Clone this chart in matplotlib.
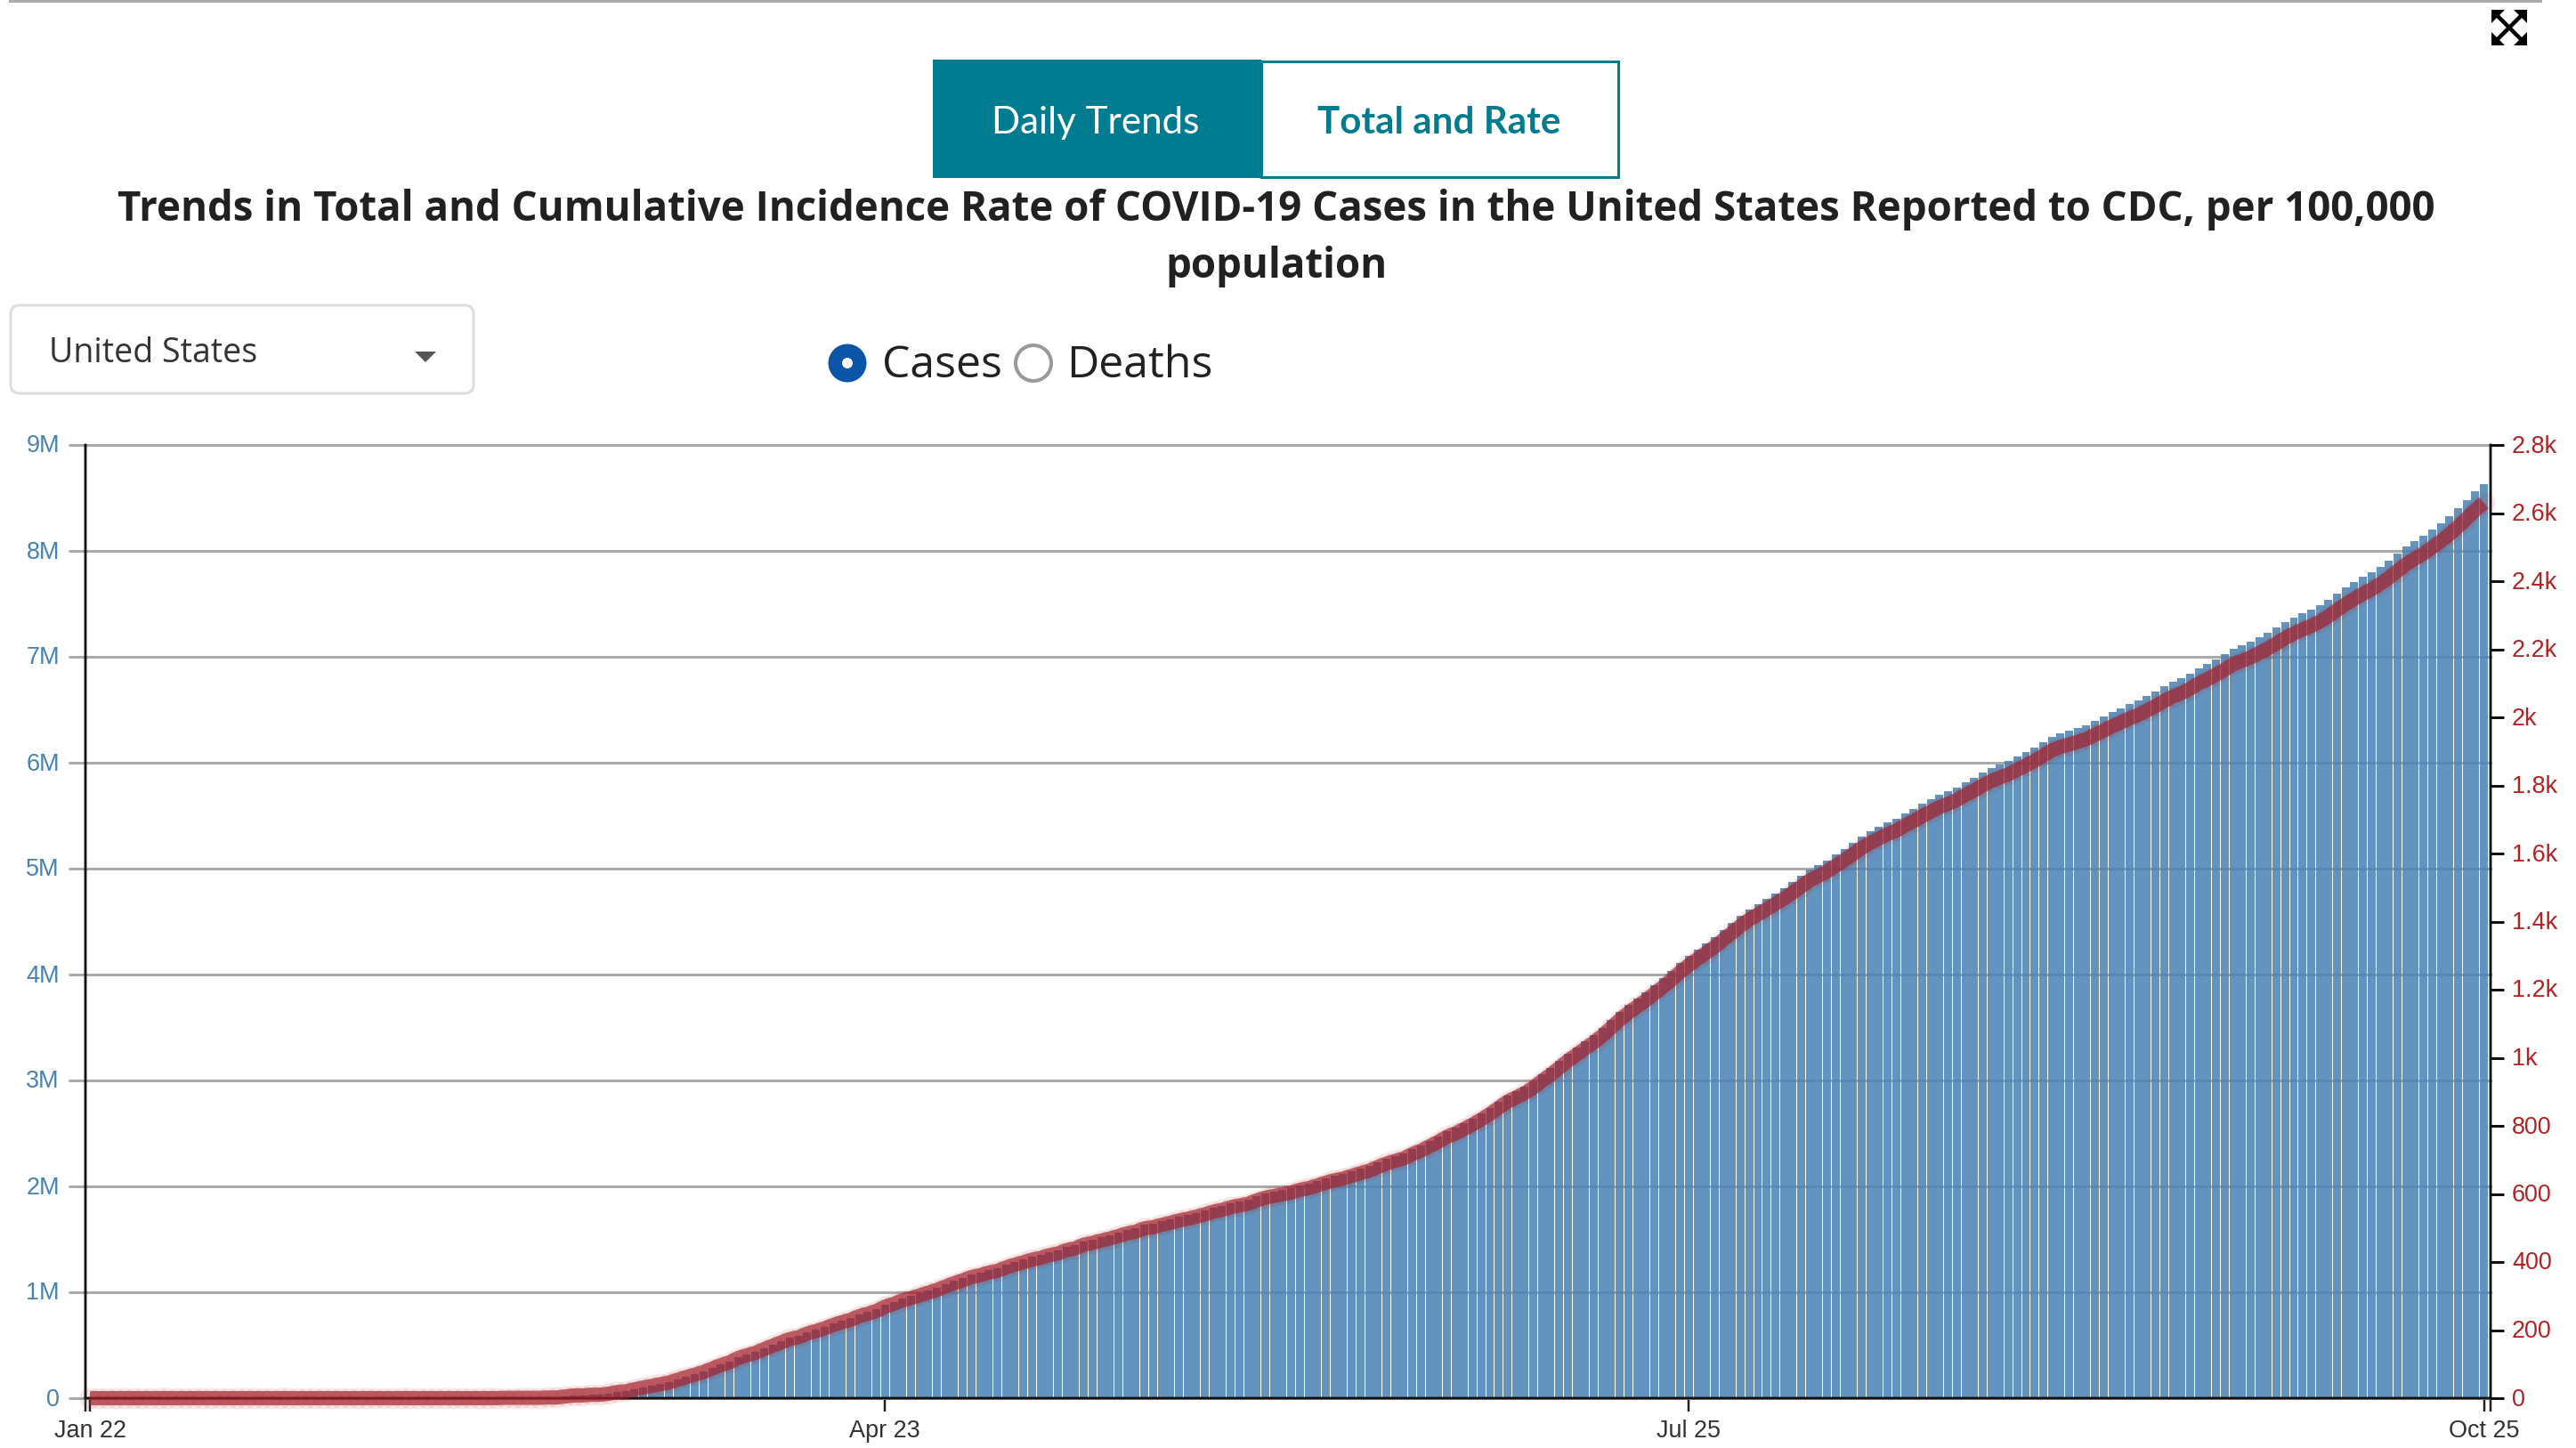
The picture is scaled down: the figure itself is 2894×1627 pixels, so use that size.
#!/usr/bin/env python3
# -*- coding: utf-8 -*-

"""
Total COVID-19 cases (bars) and cumulative incidence rate (line) in the United States.
"""

import pandas as pd
import matplotlib
matplotlib.use("Agg")
import matplotlib.pyplot as plt
from matplotlib.patches import Circle, FancyBboxPatch, Polygon, Rectangle
from matplotlib.transforms import ScaledTranslation

# Daily data, Jan 22 to Oct 25
start_date = "2020-01-22"

# Total cases in millions
total_cases = [
    0, 0, 0, 0, 0, 0, 0, 0, 0, 0, 0, 0, 0, 0, 0, 0, 0, 0, 0, 0,
    0, 0, 0, 0, 0, 0, 0, 0, 0, 0, 0, 0, 0, 0, 0, 0, 0, 0, 0, 0,
    0, 0, 0, 0, 0, .001, .001, .001, .002, .002, .003, .003, .004, .006,
    .008, .017, .025, .025, .034, .034, .042, .059, .067, .084, .101, .118, .134, .151, .176, .202,
    .227, .252, .286, .319, .345, .387, .412, .437, .471, .504, .538, .571, .588, .622, .647, .672,
    .706, .731, .756, .790, .815, .840, .882, .908, .941, .966, .992, 1.017, 1.042, 1.076, 1.109, 1.134,
    1.168, 1.185, 1.210, 1.227, 1.261, 1.286, 1.311, 1.336, 1.353, 1.378, 1.395, 1.429, 1.445, 1.479,
    1.496, 1.521, 1.538, 1.563, 1.588, 1.605, 1.639, 1.647, 1.672, 1.689, 1.714, 1.731, 1.748, 1.773,
    1.798, 1.815, 1.840, 1.857, 1.874, 1.908, 1.933, 1.950, 1.966, 1.983, 2.008, 2.025, 2.050, 2.076,
    2.101, 2.118, 2.143, 2.168, 2.193, 2.227, 2.261, 2.286, 2.311, 2.353, 2.387, 2.429, 2.471, 2.521,
    2.555, 2.597, 2.639, 2.689, 2.739, 2.798, 2.857, 2.899, 2.941, 2.992, 3.059, 3.118, 3.185, 3.252,
    3.311, 3.370, 3.429, 3.496, 3.571, 3.647, 3.714, 3.773, 3.832, 3.899, 3.966, 4.034, 4.109, 4.176,
    4.235, 4.294, 4.353, 4.420, 4.487, 4.555, 4.613, 4.664, 4.714, 4.765, 4.815, 4.874, 4.933, 4.992,
    5.034, 5.076, 5.134, 5.185, 5.244, 5.303, 5.353, 5.395, 5.437, 5.471, 5.521, 5.563, 5.613, 5.655,
    5.697, 5.731, 5.765, 5.815, 5.857, 5.908, 5.950, 5.983, 6.017, 6.059, 6.101, 6.143, 6.193, 6.244,
    6.277, 6.303, 6.328, 6.353, 6.395, 6.437, 6.479, 6.513, 6.555, 6.588, 6.630, 6.672, 6.723, 6.765,
    6.798, 6.840, 6.891, 6.933, 6.975, 7.025, 7.076, 7.109, 7.143, 7.185, 7.227, 7.277, 7.328, 7.370,
    7.412, 7.445, 7.487, 7.538, 7.597, 7.655, 7.706, 7.756, 7.798, 7.849, 7.908, 7.975, 8.042, 8.092,
    8.143, 8.202, 8.261, 8.328, 8.403, 8.479, 8.563, 8.630,
]

# Cumulative incidence per 100,000 population
incidence_rate = [
    0, 0, 0, 0, 0, 0, 0, 0, 0, 0, 0, 0, 0, 0, 0, 0, 0, 0, 0, 0,
    0, 0, 0, 0, 0, 0, 0, 0, 0, 0, 0, 0, 0, 0, 0, 0, 0, 0, 0, 0,
    0, 0, 0, 0, 0, 0, 0, 0, 1, 1, 1, 1, 1, 2,
    2, 5, 8, 8, 10, 10, 13, 18, 20, 26, 31, 36, 41, 46, 54, 62,
    69, 77, 87, 97, 105, 118, 126, 133, 144, 154, 164, 174, 179, 190, 197, 205,
    215, 223, 230, 241, 248, 256, 269, 277, 287, 294, 302, 310, 318, 328, 338, 346,
    356, 361, 369, 374, 384, 392, 399, 407, 412, 420, 425, 435, 440, 451,
    456, 463, 469, 476, 484, 489, 499, 502, 509, 515, 522, 527, 533, 540,
    548, 553, 561, 566, 571, 581, 589, 594, 599, 604, 612, 617, 625, 633,
    640, 645, 653, 661, 668, 679, 689, 697, 704, 717, 727, 740, 753, 768,
    778, 791, 804, 819, 835, 853, 871, 883, 896, 912, 932, 950, 970, 991,
    1009, 1027, 1045, 1065, 1088, 1111, 1132, 1150, 1168, 1188, 1208, 1229, 1252, 1272,
    1290, 1308, 1326, 1347, 1367, 1388, 1406, 1421, 1436, 1452, 1467, 1485, 1503, 1521,
    1534, 1547, 1564, 1580, 1598, 1616, 1631, 1644, 1657, 1667, 1682, 1695, 1710, 1723,
    1736, 1746, 1757, 1772, 1785, 1800, 1813, 1823, 1833, 1846, 1859, 1872, 1887, 1903,
    1913, 1920, 1928, 1936, 1949, 1961, 1974, 1985, 1997, 2007, 2020, 2033, 2048, 2061,
    2071, 2084, 2100, 2112, 2125, 2140, 2156, 2166, 2176, 2189, 2202, 2217, 2233, 2246,
    2258, 2268, 2281, 2297, 2315, 2332, 2348, 2363, 2376, 2392, 2410, 2430, 2450, 2466,
    2481, 2499, 2517, 2538, 2560, 2584, 2609, 2630,
]

# Axis ticks
left_ticks = [0, 1, 2, 3, 4, 5, 6, 7, 8, 9]
left_labels = ["0", "1M", "2M", "3M", "4M", "5M", "6M", "7M", "8M", "9M"]
right_ticks = [0, 200, 400, 600, 800, 1000, 1200, 1400, 1600, 1800, 2000, 2200, 2400, 2600, 2800]
right_labels = ["0", "200", "400", "600", "800", "1k", "1.2k", "1.4k", "1.6k", "1.8k", "2k",
                "2.2k", "2.4k", "2.6k", "2.8k"]
date_ticks = ["2020-01-22", "2020-04-23", "2020-07-25", "2020-10-25"]
date_labels = ["Jan 22", "Apr 23", "Jul 25", "Oct 25"]

TEAL = "#007c91"
BLUE = "steelblue"
RED = "firebrick"
WIDTH, HEIGHT = 2894, 1627
PX = 72 / 100  # one image pixel in points


def add_page(fig):
    """Draws the web page parts around the chart, in image pixels."""
    page = fig.add_axes([0, 0, 1, 1], zorder=0)
    page.set_xlim(0, WIDTH)
    page.set_ylim(HEIGHT, 0)
    page.axis("off")

    # Rule at the top of the page
    page.add_patch(Rectangle((10, 0), 2846, 3, color="#aaaaaa", lw=0))

    # Expand icon
    cx, cy, r = 2819, 31, 20
    page.plot([cx - r + 6, cx + r - 6], [cy - r + 6, cy + r - 6], color="black", lw=4.5 * PX)
    page.plot([cx - r + 6, cx + r - 6], [cy + r - 6, cy - r + 6], color="black", lw=4.5 * PX)
    for sx in (-1, 1):
        for sy in (-1, 1):
            page.add_patch(Polygon([(cx + sx * r, cy + sy * r), (cx + sx * (r - 15), cy + sy * r),
                                    (cx + sx * r, cy + sy * (r - 15))], color="black", lw=0))

    # Tab buttons
    page.add_patch(Rectangle((1417, 68.5), 401, 130, fc="white", ec=TEAL, lw=3 * PX))
    page.add_patch(Rectangle((1048, 67), 369, 133, color=TEAL, lw=0))
    page.text(1231, 150, "Daily Trends", family="Lato", fontsize=30.3, color="white",
              ha="center", va="baseline")
    page.text(1617, 150, "Total and Rate", family="Lato", weight="bold", fontsize=30.3, color=TEAL,
              ha="center", va="baseline")

    # Title
    page.text(1434, 248, "Trends in Total and Cumulative Incidence Rate of COVID-19 Cases "
              "in the United States Reported to CDC, per 100,000",
              family="Open Sans", weight="bold", fontsize=32.85, color="#212121", ha="center", va="baseline")
    page.text(1434, 312, "population", family="Open Sans", weight="bold", fontsize=32.85, color="#212121",
              ha="center", va="baseline")

    # Drop down
    page.add_patch(FancyBboxPatch((22, 353), 500, 79, boxstyle="round,pad=10,rounding_size=10",
                                  fc="white", ec="#dddddd", lw=3 * PX))
    page.text(55, 407, "United States", family="Open Sans", fontsize=27, color="#333333", va="baseline")
    page.add_patch(Polygon([(466, 395), (490, 395), (478, 407)], color="#555555", lw=0))

    # Radio buttons
    page.add_patch(Circle((952, 408), 21.5, color="#0b55a8", lw=0))
    page.add_patch(Circle((952, 408), 6, color="white", lw=0))
    page.add_patch(Circle((1161, 408), 20, fc="white", ec="#999999", lw=4 * PX))
    page.text(991, 424, "Cases", family="Open Sans", fontsize=36, color="#212121", va="baseline")
    page.text(1198, 424, "Deaths", family="Open Sans", fontsize=36, color="#212121", va="baseline")


if __name__ == "__main__":
    plt.rcParams["font.family"] = ["Liberation Sans", "DejaVu Sans"]

    dates = pd.date_range(start_date, periods=len(total_cases), freq="D")
    day = pd.Timedelta(days=1)

    fig = plt.figure(figsize=(WIDTH / 100, HEIGHT / 100), dpi=100, facecolor="white")
    add_page(fig)

    # Chart area in figure fractions
    ax = fig.add_axes([96 / WIDTH, 1 - 1571 / HEIGHT, (2798 - 96) / WIDTH, (1571 - 500) / HEIGHT], zorder=1)
    ax.patch.set_alpha(0)

    # Bars with the grid behind them, it shines through a little
    ax.bar(dates, total_cases, width=0.925, color=BLUE, alpha=0.85, lw=0, zorder=2)
    ax.set_xlim(dates[0] - 0.515 * day, dates[0] + 277.76 * day)
    ax.set_ylim(0, 9)

    ax.set_yticks(left_ticks, left_labels)
    ax.grid(axis="y", color="#aaaaaa", lw=3 * PX, zorder=1)
    ax.set_axisbelow(True)
    for line in ax.get_ygridlines():
        line.set_clip_on(False)
    ax.tick_params(axis="y", left=True, length=19 * PX, width=3 * PX, color="#aaaaaa", pad=10 * PX,
                   labelsize=27 * PX, labelcolor=BLUE)
    # Only the outer ticks of the left axis are black
    for i in (0, -1):
        ax.yaxis.get_major_ticks()[i].tick1line.set_color("black")

    # Outer ticks of the bottom axis sit at both ends of it
    x_left, x_right = ax.get_xlim()
    date_nums = [matplotlib.dates.date2num(pd.Timestamp(d)) for d in date_ticks]
    ax.set_xticks([x_left] + date_nums + [x_right], [""] + date_labels + [""])
    ax.tick_params(axis="x", length=15 * PX, width=2.5 * PX, color="#222222", pad=9 * PX,
                   labelsize=27 * PX, labelcolor="#333333")

    # Rate axis and line
    ax2 = ax.twinx()
    ax2.set_zorder(2)
    ax2.patch.set_alpha(0)
    ax2.set_ylim(0, 2800)
    ax2.set_yticks(right_ticks, right_labels)
    ax2.tick_params(axis="y", length=15 * PX, width=3 * PX, color="#111111", pad=9 * PX,
                    labelsize=27 * PX, labelcolor=RED)
    ax2.plot(dates, incidence_rate, color="#a3202e", lw=16 * PX, alpha=0.68, solid_capstyle="butt",
             solid_joinstyle="round", clip_on=False, zorder=3)
    ax2.plot(dates, incidence_rate, ls="none", marker="o", ms=24 * PX, mfc=RED, mew=0, alpha=0.1,
             clip_on=False, zorder=3)

    # The browser puts the value labels a little higher
    nudge = ScaledTranslation(0, 1.5 / 100, fig.dpi_scale_trans)
    for label in ax.get_yticklabels() + ax2.get_yticklabels():
        label.set_transform(label.get_transform() + nudge)

    for a in (ax, ax2):
        a.spines["top"].set_visible(False)
        for side in ("left", "right", "bottom"):
            a.spines[side].set_linewidth(2.5 * PX)
            a.spines[side].set_color("#111111")

    fig.savefig("out.png", dpi=100)
